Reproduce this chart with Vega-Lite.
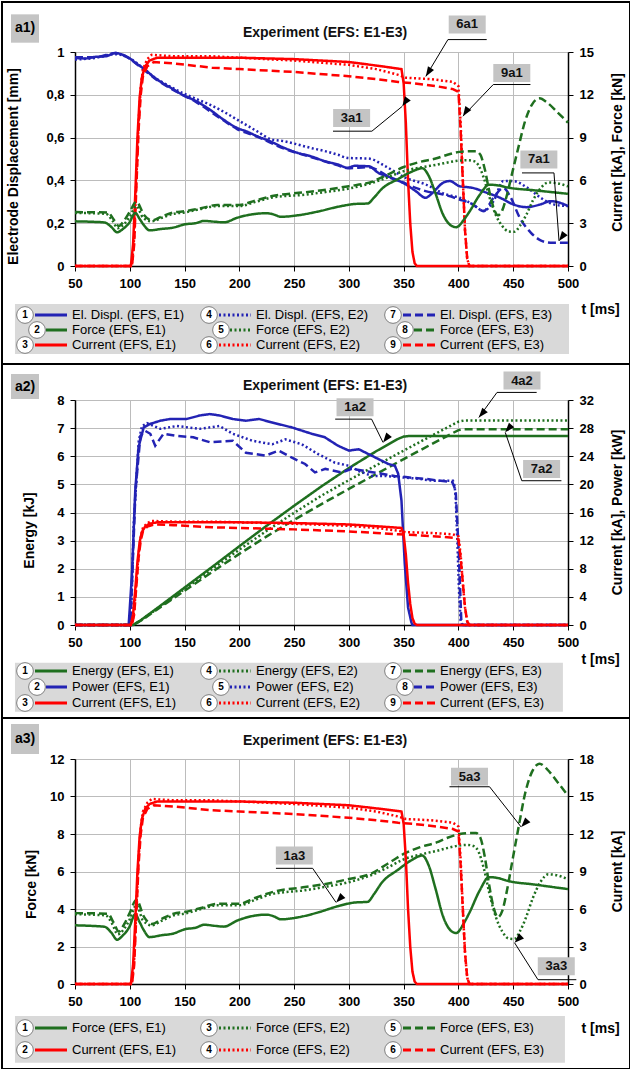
{
"$schema":"https://vega.github.io/schema/vega-lite/v6.json",
"padding":0,
"autosize":{"type":"pad"},
"bounds":"flush",
"spacing":134,
"background":"white",
"config":{
 "font":"Liberation Sans",
 "view":{"stroke":"#7a7a7a","strokeWidth":1},
 "axis":{"labelFont":"Liberation Sans","labelFontSize":13,"labelFontWeight":"bold","labelColor":"#000","labelOverlap":false,"titleFont":"Liberation Sans","titleFontSize":14,"titleFontWeight":"bold","titleColor":"#000","domainColor":"#000","domainWidth":1.5,"tickColor":"#000","tickSize":5,"gridColor":"#bcbcbc","gridWidth":1,"gridOpacity":1,"labelPadding":6},
 "text":{"font":"Liberation Sans"},
 "line":{"strokeCap":"butt"}
},
"datasets":{
"disp":[
{"t":50,"v":0.972,"s":"E1"},{"t":60,"v":0.97,"s":"E1"},{"t":68,"v":0.977,"s":"E1"},{"t":78,"v":0.98,"s":"E1"},{"t":87,"v":0.995,"s":"E1"},{"t":93,"v":0.988,"s":"E1"},{"t":100,"v":0.97,"s":"E1"},{"t":105,"v":0.95,"s":"E1"},{"t":112,"v":0.925,"s":"E1"},{"t":118,"v":0.9,"s":"E1"},{"t":124,"v":0.875,"s":"E1"},{"t":130,"v":0.855,"s":"E1"},{"t":140,"v":0.825,"s":"E1"},{"t":148,"v":0.8,"s":"E1"},{"t":160,"v":0.772,"s":"E1"},{"t":173,"v":0.731,"s":"E1"},{"t":185,"v":0.686,"s":"E1"},{"t":198,"v":0.645,"s":"E1"},{"t":207,"v":0.628,"s":"E1"},{"t":216,"v":0.607,"s":"E1"},{"t":228,"v":0.583,"s":"E1"},{"t":241,"v":0.552,"s":"E1"},{"t":253,"v":0.529,"s":"E1"},{"t":265,"v":0.513,"s":"E1"},{"t":278,"v":0.49,"s":"E1"},{"t":290,"v":0.474,"s":"E1"},{"t":299,"v":0.459,"s":"E1"},{"t":305,"v":0.468,"s":"E1"},{"t":318,"v":0.466,"s":"E1"},{"t":327,"v":0.435,"s":"E1"},{"t":339,"v":0.412,"s":"E1"},{"t":352,"v":0.381,"s":"E1"},{"t":361,"v":0.35,"s":"E1"},{"t":370,"v":0.319,"s":"E1"},{"t":376,"v":0.34,"s":"E1"},{"t":386,"v":0.389,"s":"E1"},{"t":392,"v":0.397,"s":"E1"},{"t":401,"v":0.373,"s":"E1"},{"t":413,"v":0.365,"s":"E1"},{"t":426,"v":0.342,"s":"E1"},{"t":438,"v":0.319,"s":"E1"},{"t":450,"v":0.288,"s":"E1"},{"t":462,"v":0.275,"s":"E1"},{"t":475,"v":0.288,"s":"E1"},{"t":484,"v":0.303,"s":"E1"},{"t":493,"v":0.295,"s":"E1"},{"t":500,"v":0.28,"s":"E1"},
{"t":50,"v":0.965,"s":"E2"},{"t":68,"v":0.972,"s":"E2"},{"t":87,"v":0.99,"s":"E2"},{"t":100,"v":0.97,"s":"E2"},{"t":112,"v":0.925,"s":"E2"},{"t":124,"v":0.876,"s":"E2"},{"t":130,"v":0.858,"s":"E2"},{"t":148,"v":0.809,"s":"E2"},{"t":160,"v":0.782,"s":"E2"},{"t":173,"v":0.754,"s":"E2"},{"t":186,"v":0.72,"s":"E2"},{"t":198,"v":0.684,"s":"E2"},{"t":216,"v":0.63,"s":"E2"},{"t":229,"v":0.592,"s":"E2"},{"t":241,"v":0.583,"s":"E2"},{"t":253,"v":0.568,"s":"E2"},{"t":265,"v":0.552,"s":"E2"},{"t":278,"v":0.537,"s":"E2"},{"t":290,"v":0.52,"s":"E2"},{"t":299,"v":0.505,"s":"E2"},{"t":318,"v":0.502,"s":"E2"},{"t":333,"v":0.467,"s":"E2"},{"t":352,"v":0.412,"s":"E2"},{"t":370,"v":0.381,"s":"E2"},{"t":389,"v":0.334,"s":"E2"},{"t":401,"v":0.319,"s":"E2"},{"t":413,"v":0.288,"s":"E2"},{"t":423,"v":0.257,"s":"E2"},{"t":432,"v":0.303,"s":"E2"},{"t":441,"v":0.397,"s":"E2"},{"t":450,"v":0.397,"s":"E2"},{"t":463,"v":0.365,"s":"E2"},{"t":475,"v":0.319,"s":"E2"},{"t":487,"v":0.288,"s":"E2"},{"t":500,"v":0.28,"s":"E2"},
{"t":50,"v":0.975,"s":"E3"},{"t":68,"v":0.975,"s":"E3"},{"t":87,"v":0.995,"s":"E3"},{"t":100,"v":0.968,"s":"E3"},{"t":112,"v":0.92,"s":"E3"},{"t":124,"v":0.872,"s":"E3"},{"t":140,"v":0.822,"s":"E3"},{"t":160,"v":0.768,"s":"E3"},{"t":185,"v":0.682,"s":"E3"},{"t":198,"v":0.64,"s":"E3"},{"t":216,"v":0.605,"s":"E3"},{"t":241,"v":0.548,"s":"E3"},{"t":265,"v":0.51,"s":"E3"},{"t":290,"v":0.47,"s":"E3"},{"t":299,"v":0.457,"s":"E3"},{"t":318,"v":0.462,"s":"E3"},{"t":339,"v":0.41,"s":"E3"},{"t":352,"v":0.385,"s":"E3"},{"t":361,"v":0.365,"s":"E3"},{"t":370,"v":0.35,"s":"E3"},{"t":386,"v":0.334,"s":"E3"},{"t":401,"v":0.311,"s":"E3"},{"t":413,"v":0.288,"s":"E3"},{"t":423,"v":0.257,"s":"E3"},{"t":432,"v":0.319,"s":"E3"},{"t":441,"v":0.365,"s":"E3"},{"t":447,"v":0.327,"s":"E3"},{"t":456,"v":0.225,"s":"E3"},{"t":466,"v":0.156,"s":"E3"},{"t":475,"v":0.12,"s":"E3"},{"t":484,"v":0.109,"s":"E3"},{"t":500,"v":0.109,"s":"E3"}
],
"force":[
{"t":50,"v":3.13,"s":"E1"},{"t":65,"v":3.1,"s":"E1"},{"t":77,"v":3.05,"s":"E1"},{"t":83,"v":2.75,"s":"E1"},{"t":88.5,"v":2.36,"s":"E1"},{"t":93,"v":2.55,"s":"E1"},{"t":99.6,"v":3.04,"s":"E1"},{"t":105,"v":3.72,"s":"E1"},{"t":109,"v":3.3,"s":"E1"},{"t":113,"v":2.85,"s":"E1"},{"t":118,"v":2.5,"s":"E1"},{"t":129,"v":2.6,"s":"E1"},{"t":139,"v":2.68,"s":"E1"},{"t":151,"v":2.93,"s":"E1"},{"t":160,"v":3.0,"s":"E1"},{"t":168,"v":3.16,"s":"E1"},{"t":178,"v":3.1,"s":"E1"},{"t":186,"v":3.06,"s":"E1"},{"t":198,"v":3.38,"s":"E1"},{"t":210,"v":3.6,"s":"E1"},{"t":225,"v":3.7,"s":"E1"},{"t":231,"v":3.62,"s":"E1"},{"t":238,"v":3.45,"s":"E1"},{"t":253,"v":3.55,"s":"E1"},{"t":272,"v":3.82,"s":"E1"},{"t":290,"v":4.15,"s":"E1"},{"t":306,"v":4.35,"s":"E1"},{"t":317,"v":4.38,"s":"E1"},{"t":323,"v":4.8,"s":"E1"},{"t":330,"v":5.4,"s":"E1"},{"t":345,"v":6.1,"s":"E1"},{"t":357,"v":6.6,"s":"E1"},{"t":367,"v":6.85,"s":"E1"},{"t":373,"v":6.3,"s":"E1"},{"t":379,"v":5.1,"s":"E1"},{"t":386,"v":3.6,"s":"E1"},{"t":394,"v":2.8,"s":"E1"},{"t":398,"v":2.72,"s":"E1"},{"t":405,"v":3.25,"s":"E1"},{"t":410,"v":3.8,"s":"E1"},{"t":419.5,"v":5.0,"s":"E1"},{"t":428,"v":5.7,"s":"E1"},{"t":436,"v":5.65,"s":"E1"},{"t":445,"v":5.5,"s":"E1"},{"t":470,"v":5.3,"s":"E1"},{"t":500,"v":5.06,"s":"E1"},
{"t":50,"v":3.72,"s":"E2"},{"t":78,"v":3.66,"s":"E2"},{"t":84,"v":3.2,"s":"E2"},{"t":89,"v":2.65,"s":"E2"},{"t":95,"v":2.95,"s":"E2"},{"t":100,"v":3.45,"s":"E2"},{"t":106,"v":4.2,"s":"E2"},{"t":112,"v":3.4,"s":"E2"},{"t":120,"v":3.13,"s":"E2"},{"t":130,"v":3.4,"s":"E2"},{"t":140,"v":3.66,"s":"E2"},{"t":150,"v":3.75,"s":"E2"},{"t":165,"v":4.0,"s":"E2"},{"t":180,"v":4.2,"s":"E2"},{"t":200,"v":4.2,"s":"E2"},{"t":215,"v":4.5,"s":"E2"},{"t":230,"v":4.8,"s":"E2"},{"t":260,"v":5.0,"s":"E2"},{"t":280,"v":5.2,"s":"E2"},{"t":300,"v":5.43,"s":"E2"},{"t":320,"v":5.8,"s":"E2"},{"t":335,"v":6.2,"s":"E2"},{"t":350,"v":6.65,"s":"E2"},{"t":365,"v":6.9,"s":"E2"},{"t":380,"v":7.1,"s":"E2"},{"t":400,"v":7.38,"s":"E2"},{"t":408,"v":7.42,"s":"E2"},{"t":414,"v":7.35,"s":"E2"},{"t":418,"v":7.1,"s":"E2"},{"t":423,"v":6.2,"s":"E2"},{"t":428,"v":4.9,"s":"E2"},{"t":434,"v":3.6,"s":"E2"},{"t":440,"v":2.8,"s":"E2"},{"t":446,"v":2.42,"s":"E2"},{"t":451,"v":2.4,"s":"E2"},{"t":456,"v":2.8,"s":"E2"},{"t":462,"v":3.6,"s":"E2"},{"t":468,"v":4.6,"s":"E2"},{"t":475,"v":5.45,"s":"E2"},{"t":482,"v":5.85,"s":"E2"},{"t":490,"v":5.8,"s":"E2"},{"t":500,"v":5.58,"s":"E2"},
{"t":50,"v":3.78,"s":"E3"},{"t":80,"v":3.75,"s":"E3"},{"t":85,"v":3.3,"s":"E3"},{"t":90,"v":2.8,"s":"E3"},{"t":95,"v":3.2,"s":"E3"},{"t":100,"v":3.8,"s":"E3"},{"t":106,"v":4.5,"s":"E3"},{"t":113,"v":3.58,"s":"E3"},{"t":120,"v":3.2,"s":"E3"},{"t":130,"v":3.5,"s":"E3"},{"t":140,"v":3.75,"s":"E3"},{"t":150,"v":3.84,"s":"E3"},{"t":165,"v":4.05,"s":"E3"},{"t":180,"v":4.28,"s":"E3"},{"t":200,"v":4.28,"s":"E3"},{"t":215,"v":4.6,"s":"E3"},{"t":230,"v":4.9,"s":"E3"},{"t":260,"v":5.17,"s":"E3"},{"t":280,"v":5.35,"s":"E3"},{"t":300,"v":5.6,"s":"E3"},{"t":320,"v":5.88,"s":"E3"},{"t":335,"v":6.4,"s":"E3"},{"t":350,"v":6.94,"s":"E3"},{"t":365,"v":7.3,"s":"E3"},{"t":380,"v":7.55,"s":"E3"},{"t":390,"v":7.8,"s":"E3"},{"t":401,"v":8.0,"s":"E3"},{"t":410,"v":8.05,"s":"E3"},{"t":416,"v":8.05,"s":"E3"},{"t":420,"v":7.8,"s":"E3"},{"t":424,"v":6.8,"s":"E3"},{"t":428,"v":5.3,"s":"E3"},{"t":432,"v":4.1,"s":"E3"},{"t":436,"v":3.56,"s":"E3"},{"t":440,"v":3.9,"s":"E3"},{"t":444,"v":4.9,"s":"E3"},{"t":449,"v":6.5,"s":"E3"},{"t":455,"v":8.4,"s":"E3"},{"t":461,"v":10.2,"s":"E3"},{"t":467,"v":11.3,"s":"E3"},{"t":474,"v":11.75,"s":"E3"},{"t":481,"v":11.45,"s":"E3"},{"t":490,"v":10.8,"s":"E3"},{"t":500,"v":10.05,"s":"E3"}
],
"cur":[
{"t":50,"v":0,"s":"E1"},{"t":101,"v":0,"s":"E1"},{"t":103,"v":1.5,"s":"E1"},{"t":105,"v":5,"s":"E1"},{"t":107,"v":9,"s":"E1"},{"t":109,"v":11.8,"s":"E1"},{"t":111,"v":13.2,"s":"E1"},{"t":114,"v":14,"s":"E1"},{"t":118,"v":14.4,"s":"E1"},{"t":125,"v":14.6,"s":"E1"},{"t":150,"v":14.6,"s":"E1"},{"t":200,"v":14.6,"s":"E1"},{"t":250,"v":14.5,"s":"E1"},{"t":300,"v":14.3,"s":"E1"},{"t":330,"v":14,"s":"E1"},{"t":348,"v":13.8,"s":"E1"},{"t":350,"v":12.8,"s":"E1"},{"t":352,"v":10,"s":"E1"},{"t":354,"v":6,"s":"E1"},{"t":356,"v":3,"s":"E1"},{"t":358,"v":1,"s":"E1"},{"t":360,"v":0.2,"s":"E1"},{"t":362,"v":0,"s":"E1"},{"t":500,"v":0,"s":"E1"},
{"t":50,"v":0,"s":"E2"},{"t":102,"v":0,"s":"E2"},{"t":104,"v":2,"s":"E2"},{"t":106,"v":6,"s":"E2"},{"t":108,"v":10,"s":"E2"},{"t":110,"v":12.5,"s":"E2"},{"t":112,"v":13.8,"s":"E2"},{"t":116,"v":14.5,"s":"E2"},{"t":120,"v":14.8,"s":"E2"},{"t":140,"v":14.7,"s":"E2"},{"t":175,"v":14.7,"s":"E2"},{"t":200,"v":14.6,"s":"E2"},{"t":250,"v":14.4,"s":"E2"},{"t":300,"v":14.1,"s":"E2"},{"t":325,"v":13.8,"s":"E2"},{"t":345,"v":13.4,"s":"E2"},{"t":352,"v":13.2,"s":"E2"},{"t":375,"v":13.1,"s":"E2"},{"t":395,"v":12.9,"s":"E2"},{"t":400,"v":12.6,"s":"E2"},{"t":402,"v":10,"s":"E2"},{"t":404,"v":6,"s":"E2"},{"t":406,"v":2.5,"s":"E2"},{"t":408,"v":0.5,"s":"E2"},{"t":410,"v":0,"s":"E2"},{"t":500,"v":0,"s":"E2"},
{"t":50,"v":0,"s":"E3"},{"t":102,"v":0,"s":"E3"},{"t":104,"v":1.5,"s":"E3"},{"t":106,"v":5.5,"s":"E3"},{"t":108,"v":9.5,"s":"E3"},{"t":110,"v":12,"s":"E3"},{"t":112,"v":13.3,"s":"E3"},{"t":116,"v":14,"s":"E3"},{"t":122,"v":14.3,"s":"E3"},{"t":140,"v":14.2,"s":"E3"},{"t":175,"v":13.9,"s":"E3"},{"t":200,"v":13.8,"s":"E3"},{"t":250,"v":13.6,"s":"E3"},{"t":300,"v":13.3,"s":"E3"},{"t":325,"v":13.1,"s":"E3"},{"t":345,"v":12.9,"s":"E3"},{"t":360,"v":12.8,"s":"E3"},{"t":380,"v":12.6,"s":"E3"},{"t":395,"v":12.4,"s":"E3"},{"t":400,"v":12.2,"s":"E3"},{"t":402,"v":9.5,"s":"E3"},{"t":404,"v":6,"s":"E3"},{"t":406,"v":2.5,"s":"E3"},{"t":408,"v":0.5,"s":"E3"},{"t":410,"v":0,"s":"E3"},{"t":500,"v":0,"s":"E3"}
],
"energy":[
{"t":50,"v":0,"s":"E1"},{"t":103,"v":0,"s":"E1"},{"t":110,"v":0.17,"s":"E1"},{"t":125,"v":0.6,"s":"E1"},{"t":150,"v":1.33,"s":"E1"},{"t":175,"v":2.06,"s":"E1"},{"t":200,"v":2.8,"s":"E1"},{"t":225,"v":3.53,"s":"E1"},{"t":250,"v":4.24,"s":"E1"},{"t":275,"v":4.93,"s":"E1"},{"t":300,"v":5.58,"s":"E1"},{"t":325,"v":6.18,"s":"E1"},{"t":345,"v":6.62,"s":"E1"},{"t":350,"v":6.7,"s":"E1"},{"t":355,"v":6.72,"s":"E1"},{"t":500,"v":6.72,"s":"E1"},
{"t":50,"v":0,"s":"E2"},{"t":103,"v":0,"s":"E2"},{"t":110,"v":0.16,"s":"E2"},{"t":125,"v":0.58,"s":"E2"},{"t":150,"v":1.28,"s":"E2"},{"t":175,"v":1.98,"s":"E2"},{"t":200,"v":2.68,"s":"E2"},{"t":225,"v":3.35,"s":"E2"},{"t":250,"v":3.99,"s":"E2"},{"t":275,"v":4.6,"s":"E2"},{"t":300,"v":5.15,"s":"E2"},{"t":325,"v":5.68,"s":"E2"},{"t":350,"v":6.2,"s":"E2"},{"t":375,"v":6.72,"s":"E2"},{"t":400,"v":7.23,"s":"E2"},{"t":405,"v":7.27,"s":"E2"},{"t":500,"v":7.27,"s":"E2"},
{"t":50,"v":0,"s":"E3"},{"t":103,"v":0,"s":"E3"},{"t":110,"v":0.15,"s":"E3"},{"t":125,"v":0.55,"s":"E3"},{"t":150,"v":1.22,"s":"E3"},{"t":175,"v":1.88,"s":"E3"},{"t":200,"v":2.53,"s":"E3"},{"t":225,"v":3.15,"s":"E3"},{"t":250,"v":3.74,"s":"E3"},{"t":275,"v":4.3,"s":"E3"},{"t":300,"v":4.84,"s":"E3"},{"t":325,"v":5.37,"s":"E3"},{"t":350,"v":5.9,"s":"E3"},{"t":375,"v":6.42,"s":"E3"},{"t":400,"v":6.93,"s":"E3"},{"t":405,"v":6.96,"s":"E3"},{"t":500,"v":6.96,"s":"E3"}
],
"power":[
{"t":50,"v":0,"s":"E1"},{"t":99,"v":0,"s":"E1"},{"t":102,"v":7.25,"s":"E1"},{"t":105,"v":19.1,"s":"E1"},{"t":108,"v":25.3,"s":"E1"},{"t":112.7,"v":28.1,"s":"E1"},{"t":118.7,"v":28.6,"s":"E1"},{"t":127.8,"v":29.05,"s":"E1"},{"t":136.8,"v":29.3,"s":"E1"},{"t":151.9,"v":29.3,"s":"E1"},{"t":164,"v":29.8,"s":"E1"},{"t":173,"v":30.0,"s":"E1"},{"t":182,"v":29.8,"s":"E1"},{"t":194,"v":29.3,"s":"E1"},{"t":206,"v":29.05,"s":"E1"},{"t":218,"v":29.3,"s":"E1"},{"t":230,"v":28.8,"s":"E1"},{"t":248,"v":28.1,"s":"E1"},{"t":266,"v":27.2,"s":"E1"},{"t":278,"v":26.7,"s":"E1"},{"t":290,"v":25.5,"s":"E1"},{"t":300,"v":24.8,"s":"E1"},{"t":309,"v":25.0,"s":"E1"},{"t":318,"v":24.3,"s":"E1"},{"t":327,"v":23.6,"s":"E1"},{"t":336,"v":22.9,"s":"E1"},{"t":342,"v":22.65,"s":"E1"},{"t":345,"v":21.5,"s":"E1"},{"t":348,"v":17.7,"s":"E1"},{"t":351,"v":8.7,"s":"E1"},{"t":354,"v":2.5,"s":"E1"},{"t":357,"v":0.4,"s":"E1"},{"t":358,"v":0,"s":"E1"},{"t":500,"v":0,"s":"E1"},
{"t":50,"v":0,"s":"E2"},{"t":101,"v":0,"s":"E2"},{"t":103.6,"v":14.4,"s":"E2"},{"t":108.2,"v":26.2,"s":"E2"},{"t":111.2,"v":28.3,"s":"E2"},{"t":115.7,"v":28.7,"s":"E2"},{"t":127.8,"v":27.9,"s":"E2"},{"t":142.8,"v":28.3,"s":"E2"},{"t":164,"v":27.9,"s":"E2"},{"t":182,"v":28.3,"s":"E2"},{"t":194,"v":27.2,"s":"E2"},{"t":212,"v":26.2,"s":"E2"},{"t":230,"v":25.7,"s":"E2"},{"t":242,"v":26.4,"s":"E2"},{"t":257,"v":25.7,"s":"E2"},{"t":272,"v":24.3,"s":"E2"},{"t":287,"v":23.1,"s":"E2"},{"t":300,"v":22.65,"s":"E2"},{"t":309,"v":21.9,"s":"E2"},{"t":321,"v":21.2,"s":"E2"},{"t":333,"v":21.2,"s":"E2"},{"t":348,"v":21.0,"s":"E2"},{"t":363,"v":20.8,"s":"E2"},{"t":378,"v":20.5,"s":"E2"},{"t":395,"v":20.5,"s":"E2"},{"t":396.5,"v":19.8,"s":"E2"},{"t":397.5,"v":18.1,"s":"E2"},{"t":399,"v":12,"s":"E2"},{"t":400.5,"v":4.9,"s":"E2"},{"t":402,"v":0.6,"s":"E2"},{"t":403.5,"v":0,"s":"E2"},{"t":500,"v":0,"s":"E2"},
{"t":50,"v":0,"s":"E3"},{"t":100.6,"v":0,"s":"E3"},{"t":105.2,"v":19.1,"s":"E3"},{"t":109.7,"v":26.9,"s":"E3"},{"t":114.2,"v":27.6,"s":"E3"},{"t":118.7,"v":27.2,"s":"E3"},{"t":123.2,"v":25.5,"s":"E3"},{"t":130.8,"v":27.2,"s":"E3"},{"t":142.8,"v":26.9,"s":"E3"},{"t":158,"v":26.7,"s":"E3"},{"t":173,"v":26.0,"s":"E3"},{"t":194,"v":26.2,"s":"E3"},{"t":206,"v":24.5,"s":"E3"},{"t":224,"v":24.1,"s":"E3"},{"t":236,"v":24.8,"s":"E3"},{"t":248,"v":23.8,"s":"E3"},{"t":260,"v":22.9,"s":"E3"},{"t":269,"v":21.7,"s":"E3"},{"t":278.5,"v":22.2,"s":"E3"},{"t":293.5,"v":21.7,"s":"E3"},{"t":302.6,"v":22.2,"s":"E3"},{"t":314.6,"v":21.9,"s":"E3"},{"t":329.7,"v":21.5,"s":"E3"},{"t":341.8,"v":21.2,"s":"E3"},{"t":353.8,"v":21.0,"s":"E3"},{"t":368.9,"v":20.8,"s":"E3"},{"t":384,"v":20.5,"s":"E3"},{"t":394.5,"v":20.3,"s":"E3"},{"t":397.5,"v":19.1,"s":"E3"},{"t":400.5,"v":9.6,"s":"E3"},{"t":402.6,"v":0.6,"s":"E3"},{"t":404.4,"v":0,"s":"E3"},{"t":500,"v":0,"s":"E3"}
],
"callouts":[
{"id":"6a1","p":1,"bt":408,"bv":1.129,"l1":390.4,"l2":425.8,"lv":1.058,"tt":390.4,"pt":370.2,"pv":0.886},
{"id":"9a1","p":1,"bt":448.7,"bv":0.902,"l1":431.8,"l2":465.7,"lv":0.848,"tt":431.8,"pt":404.1,"pv":0.70},
{"id":"3a1","p":1,"bt":302.5,"bv":0.692,"l1":285.5,"l2":321,"lv":0.63,"tt":321,"pt":348.7,"pv":0.746},
{"id":"7a1","p":1,"bt":473.4,"bv":0.498,"l1":458,"l2":487.2,"lv":0.435,"tt":487.2,"pt":491.8,"pv":0.117},
{"id":"1a2","p":2,"bt":305.6,"bv":7.74,"l1":287.5,"l2":320.7,"lv":7.32,"tt":320.7,"pt":331.2,"pv":6.49},
{"id":"4a2","p":2,"bt":458,"bv":8.69,"l1":435.2,"l2":471.4,"lv":8.27,"tt":435.2,"pt":418.6,"pv":7.38},
{"id":"7a2","p":2,"bt":475.9,"bv":5.55,"l1":457.8,"l2":494,"lv":5.13,"tt":457.8,"pt":442.7,"pv":6.85},
{"id":"5a3","p":3,"bt":410.1,"bv":11.06,"l1":391.8,"l2":428.4,"lv":10.52,"tt":428.4,"pt":457.3,"pv":8.37},
{"id":"1a3","p":3,"bt":250.2,"bv":6.85,"l1":233.4,"l2":266.9,"lv":6.17,"tt":266.9,"pt":288.3,"pv":4.35},
{"id":"3a3","p":3,"bt":489.3,"bv":0.95,"l1":472.6,"l2":507.6,"lv":0.23,"tt":472.6,"pt":451.2,"pv":2.2}
],
"leg1":[
{"col":1,"row":1,"n":"1","label":"El. Displ. (EFS, E1)","q":"Displ","s":"E1"},
{"col":1,"row":2,"n":"2","label":"Force (EFS, E1)","q":"Force","s":"E1"},
{"col":1,"row":3,"n":"3","label":"Current (EFS, E1)","q":"Current","s":"E1"},
{"col":2,"row":1,"n":"4","label":"El. Displ. (EFS, E2)","q":"Displ","s":"E2"},
{"col":2,"row":2,"n":"5","label":"Force (EFS, E2)","q":"Force","s":"E2"},
{"col":2,"row":3,"n":"6","label":"Current (EFS, E2)","q":"Current","s":"E2"},
{"col":3,"row":1,"n":"7","label":"El. Displ. (EFS, E3)","q":"Displ","s":"E3"},
{"col":3,"row":2,"n":"8","label":"Force (EFS, E3)","q":"Force","s":"E3"},
{"col":3,"row":3,"n":"9","label":"Current (EFS, E3)","q":"Current","s":"E3"}
],
"leg2":[
{"col":1,"row":1,"n":"1","label":"Energy (EFS, E1)","q":"Energy","s":"E1"},
{"col":1,"row":2,"n":"2","label":"Power (EFS, E1)","q":"Power","s":"E1"},
{"col":1,"row":3,"n":"3","label":"Current (EFS, E1)","q":"Current","s":"E1"},
{"col":2,"row":1,"n":"4","label":"Energy (EFS, E2)","q":"Energy","s":"E2"},
{"col":2,"row":2,"n":"5","label":"Power (EFS, E2)","q":"Power","s":"E2"},
{"col":2,"row":3,"n":"6","label":"Current (EFS, E2)","q":"Current","s":"E2"},
{"col":3,"row":1,"n":"7","label":"Energy (EFS, E3)","q":"Energy","s":"E3"},
{"col":3,"row":2,"n":"8","label":"Power (EFS, E3)","q":"Power","s":"E3"},
{"col":3,"row":3,"n":"9","label":"Current (EFS, E3)","q":"Current","s":"E3"}
],
"leg3":[
{"col":1,"row":1,"n":"1","label":"Force (EFS, E1)","q":"Force","s":"E1"},
{"col":1,"row":2,"n":"2","label":"Current (EFS, E1)","q":"Current","s":"E1"},
{"col":2,"row":1,"n":"3","label":"Force (EFS, E2)","q":"Force","s":"E2"},
{"col":2,"row":2,"n":"4","label":"Force (EFS, E2)","q":"Current","s":"E2"},
{"col":3,"row":1,"n":"5","label":"Force (EFS, E3)","q":"Force","s":"E3"},
{"col":3,"row":2,"n":"6","label":"Current (EFS, E3)","q":"Current","s":"E3"}
]
},
"vconcat":[
{
"width":493,"height":214,
"layer":[
 {"layer":[
   {"layer":[
     {"data":{"values":[{}]},"mark":{"type":"rect","fill":"transparent","stroke":"#000","strokeWidth":2},
      "encoding":{"x":{"datum":-16.63,"type":"quantitative","scale":{"domain":[50,500],"nice":false,"zero":false}},"x2":{"datum":556.6},"y":{"datum":1.2336,"type":"quantitative","scale":{"domain":[0,1],"nice":false,"zero":false}},"y2":{"datum":-0.458}}},
     {"data":{"values":[{}]},"mark":{"type":"rect","fill":"#c4c4c4"},
      "encoding":{"x":{"datum":-8.42,"type":"quantitative","scale":{"domain":[50,500],"nice":false,"zero":false}},"x2":{"datum":17.14},"y":{"datum":1.176,"type":"quantitative","scale":{"domain":[0,1],"nice":false,"zero":false}},"y2":{"datum":1.0435}}},
     {"data":{"values":[{}]},"mark":{"type":"text","text":"a1)","fontSize":14,"fontWeight":"bold","align":"center","baseline":"middle","color":"#000"},
      "encoding":{"x":{"datum":4.36,"type":"quantitative","scale":{"domain":[50,500],"nice":false,"zero":false}},"y":{"datum":1.11,"type":"quantitative","scale":{"domain":[0,1],"nice":false,"zero":false}}}},
     {"data":{"values":[{}]},"mark":{"type":"text","text":"Experiment (EFS: E1-E3)","fontSize":14,"fontWeight":"bold","align":"center","baseline":"middle","color":"#111"},
      "encoding":{"x":{"datum":278.2,"type":"quantitative","scale":{"domain":[50,500],"nice":false,"zero":false}},"y":{"datum":1.089,"type":"quantitative","scale":{"domain":[0,1],"nice":false,"zero":false}}}},
     {"data":{"name":"disp"},"mark":{"type":"line","color":"#2323b4","strokeWidth":2.5,"interpolate":"monotone"},
      "encoding":{"x":{"field":"t","type":"quantitative","scale":{"domain":[50,500],"nice":false,"zero":false},"axis":{"values":[50,100,150,200,250,300,350,400,450,500],"tickCount":30,"format":"d","grid":true,"title":"t [ms]","titleX":506,"titleY":43,"titleAlign":"left","titleBaseline":"middle","titleAngle":0,"labelFlush":false}},
       "y":{"field":"v","type":"quantitative","scale":{"domain":[0,1],"nice":false,"zero":false},"axis":{"values":[0,0.2,0.4,0.6,0.8,1],"tickCount":30,"grid":true,"labelExpr":"replace(format(datum.value,'~g'),'.',',')","title":"Electrode Displacement  [mm]","titleX":-62,"titleY":114,"titleAngle":270,"titleAlign":"center","titleBaseline":"middle"}},
       "strokeDash":{"field":"s","type":"nominal","scale":{"domain":["E1","E2","E3"],"range":[[1,0],[2,2.5],[8,4]]},"legend":null}}}
   ]},
   {"layer":[
     {"data":{"name":"cur"},"mark":{"type":"line","color":"#ff0000","strokeWidth":2.5},
      "encoding":{"x":{"field":"t","type":"quantitative","scale":{"domain":[50,500],"nice":false,"zero":false}},"y":{"field":"v","type":"quantitative","scale":{"domain":[0,15],"nice":false,"zero":false},"axis":{"orient":"right","values":[0,3,6,9,12,15],"tickCount":30,"format":"d","grid":false,"title":"Current  [kA],   Force  [kN]","titleX":49,"titleY":100,"titleAngle":270,"titleAlign":"center","titleBaseline":"middle"}},
       "strokeDash":{"field":"s","type":"nominal","scale":{"domain":["E1","E2","E3"],"range":[[1,0],[2,2.5],[8,4]]},"legend":null}}},
     {"data":{"name":"force"},"mark":{"type":"line","color":"#1f6f1f","strokeWidth":2.5,"interpolate":"monotone"},
      "encoding":{"x":{"field":"t","type":"quantitative","scale":{"domain":[50,500],"nice":false,"zero":false}},"y":{"field":"v","type":"quantitative","scale":{"domain":[0,15],"nice":false,"zero":false}},
       "strokeDash":{"field":"s","type":"nominal","scale":{"domain":["E1","E2","E3"],"range":[[1,0],[2,2.5],[8,4]]},"legend":null}}}
   ]},
   {"data":{"name":"callouts"},"transform":[{"filter":"datum.p == 1"}],
    "layer":[
     {"mark":{"type":"rule","color":"#000","strokeWidth":1},"encoding":{"x":{"field":"l1","type":"quantitative","scale":{"domain":[50,500],"nice":false,"zero":false}},"x2":{"field":"l2"},"y":{"field":"lv","type":"quantitative","scale":{"domain":[0,1],"nice":false,"zero":false},"axis":null}}},
     {"mark":{"type":"rule","color":"#000","strokeWidth":1},"encoding":{"x":{"field":"tt","type":"quantitative","scale":{"domain":[50,500],"nice":false,"zero":false}},"x2":{"field":"pt"},"y":{"field":"lv","type":"quantitative","scale":{"domain":[0,1],"nice":false,"zero":false},"axis":null},"y2":{"field":"pv"}}},
     {"mark":{"type":"point","shape":"M0,0L0.55,1.5L-0.55,1.5Z","size":169,"filled":true,"color":"#000","opacity":1},"encoding":{"x":{"field":"pt","type":"quantitative","scale":{"domain":[50,500],"nice":false,"zero":false}},"y":{"field":"pv","type":"quantitative","scale":{"domain":[0,1],"nice":false,"zero":false},"axis":null},
       "angle":{"field":"id","type":"nominal","scale":{"domain":["6a1","9a1","3a1","7a1","1a2","4a2","7a2","5a3","1a3","3a3"],"range":[212.2,225.4,50.7,175.8,152.9,217.9,342.7,141.2,145.1,327.6]},"legend":null}}},
     {"mark":{"type":"point","shape":"M-1,-0.486H1V0.486H-1Z","size":1369,"filled":true,"color":"#c4c4c4","opacity":1},"encoding":{"x":{"field":"bt","type":"quantitative","scale":{"domain":[50,500],"nice":false,"zero":false}},"y":{"field":"bv","type":"quantitative","scale":{"domain":[0,1],"nice":false,"zero":false},"axis":null}}},
     {"mark":{"type":"text","fontSize":13,"fontWeight":"bold","align":"center","baseline":"middle","color":"#111"},"encoding":{"x":{"field":"bt","type":"quantitative","scale":{"domain":[50,500],"nice":false,"zero":false}},"y":{"field":"bv","type":"quantitative","scale":{"domain":[0,1],"nice":false,"zero":false},"axis":null},"text":{"field":"id"}}}
    ]}
  ],
  "resolve":{"scale":{"y":"independent"}}
 },
 {"data":{"name":"leg1"},
  "layer":[
   {"data":{"values":[{}]},"mark":{"type":"rect","fill":"#d9d9d9"},"encoding":{"x":{"datum":0.69,"type":"quantitative","scale":{"domain":[1,3],"range":[-3,365],"nice":false,"zero":false},"axis":null},"x2":{"datum":3.701},"y":{"datum":0.267,"type":"quantitative","scale":{"domain":[1,3],"range":[263,293],"nice":false,"zero":false},"axis":null},"y2":{"datum":3.6}}},
   {"transform":[{"filter":"datum.row != 2"}],"mark":{"type":"rule","strokeWidth":3,"xOffset":-37,"x2Offset":-5},"encoding":{"x":{"field":"col","type":"quantitative","scale":{"domain":[1,3],"range":[-3,365],"nice":false,"zero":false},"axis":null},"x2":{"field":"col"},"y":{"field":"row","type":"quantitative","scale":{"domain":[1,3],"range":[263,293],"nice":false,"zero":false},"axis":null},
     "color":{"field":"q","type":"nominal","scale":{"domain":["Displ","Force","Current","Energy","Power"],"range":["#2323b4","#1f6f1f","#ff0000","#1f6f1f","#2323b4"]},"legend":null},
     "strokeDash":{"field":"s","type":"nominal","scale":{"domain":["E1","E2","E3"],"range":[[1,0],[2,2.5],[8,4]]},"legend":null}}},
   {"transform":[{"filter":"datum.row == 2"}],"mark":{"type":"rule","strokeWidth":3,"xOffset":-26,"x2Offset":-5},"encoding":{"x":{"field":"col","type":"quantitative","scale":{"domain":[1,3],"range":[-3,365],"nice":false,"zero":false},"axis":null},"x2":{"field":"col"},"y":{"field":"row","type":"quantitative","scale":{"domain":[1,3],"range":[263,293],"nice":false,"zero":false},"axis":null},
     "color":{"field":"q","type":"nominal","scale":{"domain":["Displ","Force","Current","Energy","Power"],"range":["#2323b4","#1f6f1f","#ff0000","#1f6f1f","#2323b4"]},"legend":null},
     "strokeDash":{"field":"s","type":"nominal","scale":{"domain":["E1","E2","E3"],"range":[[1,0],[2,2.5],[8,4]]},"legend":null}}},
   {"transform":[{"filter":"datum.row != 2"}],"mark":{"type":"point","shape":"circle","filled":true,"fill":"#fff","stroke":"#808080","strokeWidth":1,"size":280,"opacity":1,"xOffset":-47},"encoding":{"x":{"field":"col","type":"quantitative","scale":{"domain":[1,3],"range":[-3,365],"nice":false,"zero":false},"axis":null},"y":{"field":"row","type":"quantitative","scale":{"domain":[1,3],"range":[263,293],"nice":false,"zero":false},"axis":null}}},
   {"transform":[{"filter":"datum.row == 2"}],"mark":{"type":"point","shape":"circle","filled":true,"fill":"#fff","stroke":"#808080","strokeWidth":1,"size":280,"opacity":1,"xOffset":-35},"encoding":{"x":{"field":"col","type":"quantitative","scale":{"domain":[1,3],"range":[-3,365],"nice":false,"zero":false},"axis":null},"y":{"field":"row","type":"quantitative","scale":{"domain":[1,3],"range":[263,293],"nice":false,"zero":false},"axis":null}}},
   {"transform":[{"filter":"datum.row != 2"}],"mark":{"type":"text","fontSize":10,"fontWeight":"bold","align":"center","baseline":"middle","xOffset":-47,"color":"#000"},"encoding":{"x":{"field":"col","type":"quantitative","scale":{"domain":[1,3],"range":[-3,365],"nice":false,"zero":false},"axis":null},"y":{"field":"row","type":"quantitative","scale":{"domain":[1,3],"range":[263,293],"nice":false,"zero":false},"axis":null},"text":{"field":"n"}}},
   {"transform":[{"filter":"datum.row == 2"}],"mark":{"type":"text","fontSize":10,"fontWeight":"bold","align":"center","baseline":"middle","xOffset":-35,"color":"#000"},"encoding":{"x":{"field":"col","type":"quantitative","scale":{"domain":[1,3],"range":[-3,365],"nice":false,"zero":false},"axis":null},"y":{"field":"row","type":"quantitative","scale":{"domain":[1,3],"range":[263,293],"nice":false,"zero":false},"axis":null},"text":{"field":"n"}}},
   {"mark":{"type":"text","fontSize":13,"align":"left","baseline":"middle","color":"#000"},"encoding":{"x":{"field":"col","type":"quantitative","scale":{"domain":[1,3],"range":[-3,365],"nice":false,"zero":false},"axis":null},"y":{"field":"row","type":"quantitative","scale":{"domain":[1,3],"range":[263,293],"nice":false,"zero":false},"axis":null},"text":{"field":"label"}}}
  ]}
],
"resolve":{"scale":{"x":"independent","y":"independent"}}
},
{
"width":493,"height":225,
"layer":[
 {"layer":[
   {"layer":[
     {"data":{"values":[{}]},"mark":{"type":"rect","fill":"transparent","stroke":"#000","strokeWidth":2},
      "encoding":{"x":{"datum":-16.63,"type":"quantitative","scale":{"domain":[50,500],"nice":false,"zero":false}},"x2":{"datum":556.6},"y":{"datum":9.28,"type":"quantitative","scale":{"domain":[0,8],"nice":false,"zero":false}},"y2":{"datum":-3.307}}},
     {"data":{"values":[{}]},"mark":{"type":"rect","fill":"#c4c4c4"},
      "encoding":{"x":{"datum":-8.42,"type":"quantitative","scale":{"domain":[50,500],"nice":false,"zero":false}},"x2":{"datum":17.14},"y":{"datum":8.924,"type":"quantitative","scale":{"domain":[0,8],"nice":false,"zero":false}},"y2":{"datum":8.036}}},
     {"data":{"values":[{}]},"mark":{"type":"text","text":"a2)","fontSize":14,"fontWeight":"bold","align":"center","baseline":"middle","color":"#000"},
      "encoding":{"x":{"datum":4.36,"type":"quantitative","scale":{"domain":[50,500],"nice":false,"zero":false}},"y":{"datum":8.48,"type":"quantitative","scale":{"domain":[0,8],"nice":false,"zero":false}}}},
     {"data":{"values":[{}]},"mark":{"type":"text","text":"Experiment (EFS: E1-E3)","fontSize":14,"fontWeight":"bold","align":"center","baseline":"middle","color":"#111"},
      "encoding":{"x":{"datum":278.2,"type":"quantitative","scale":{"domain":[50,500],"nice":false,"zero":false}},"y":{"datum":8.498,"type":"quantitative","scale":{"domain":[0,8],"nice":false,"zero":false}}}},
     {"data":{"name":"energy"},"mark":{"type":"line","color":"#1f6f1f","strokeWidth":2.5},
      "encoding":{"x":{"field":"t","type":"quantitative","scale":{"domain":[50,500],"nice":false,"zero":false},"axis":{"values":[50,100,150,200,250,300,350,400,450,500],"tickCount":30,"format":"d","grid":true,"title":"t [ms]","titleX":506,"titleY":34,"titleAlign":"left","titleBaseline":"middle","titleAngle":0,"labelFlush":false}},
       "y":{"field":"v","type":"quantitative","scale":{"domain":[0,8],"nice":false,"zero":false},"axis":{"values":[0,1,2,3,4,5,6,7,8],"tickCount":30,"format":"d","grid":true,"title":"Energy    [kJ]","titleX":-46,"titleY":130,"titleAngle":270,"titleAlign":"center","titleBaseline":"middle"}},
       "strokeDash":{"field":"s","type":"nominal","scale":{"domain":["E1","E2","E3"],"range":[[1,0],[2,2.5],[8,4]]},"legend":null}}}
   ]},
   {"layer":[
     {"data":{"name":"power"},"mark":{"type":"line","color":"#2323b4","strokeWidth":2.5},
      "encoding":{"x":{"field":"t","type":"quantitative","scale":{"domain":[50,500],"nice":false,"zero":false}},"y":{"field":"v","type":"quantitative","scale":{"domain":[0,32],"nice":false,"zero":false},"axis":{"orient":"right","values":[0,4,8,12,16,20,24,28,32],"tickCount":30,"format":"d","grid":false,"title":"Current  [kA],   Power  [kW]","titleX":49,"titleY":112,"titleAngle":270,"titleAlign":"center","titleBaseline":"middle"}},
       "strokeDash":{"field":"s","type":"nominal","scale":{"domain":["E1","E2","E3"],"range":[[1,0],[2,2.5],[8,4]]},"legend":null}}},
     {"data":{"name":"cur"},"mark":{"type":"line","color":"#ff0000","strokeWidth":2.5},
      "encoding":{"x":{"field":"t","type":"quantitative","scale":{"domain":[50,500],"nice":false,"zero":false}},"y":{"field":"v","type":"quantitative","scale":{"domain":[0,32],"nice":false,"zero":false}},
       "strokeDash":{"field":"s","type":"nominal","scale":{"domain":["E1","E2","E3"],"range":[[1,0],[2,2.5],[8,4]]},"legend":null}}}
   ]},
   {"data":{"name":"callouts"},"transform":[{"filter":"datum.p == 2"}],
    "layer":[
     {"mark":{"type":"rule","color":"#000","strokeWidth":1},"encoding":{"x":{"field":"l1","type":"quantitative","scale":{"domain":[50,500],"nice":false,"zero":false}},"x2":{"field":"l2"},"y":{"field":"lv","type":"quantitative","scale":{"domain":[0,8],"nice":false,"zero":false},"axis":null}}},
     {"mark":{"type":"rule","color":"#000","strokeWidth":1},"encoding":{"x":{"field":"tt","type":"quantitative","scale":{"domain":[50,500],"nice":false,"zero":false}},"x2":{"field":"pt"},"y":{"field":"lv","type":"quantitative","scale":{"domain":[0,8],"nice":false,"zero":false},"axis":null},"y2":{"field":"pv"}}},
     {"mark":{"type":"point","shape":"M0,0L0.55,1.5L-0.55,1.5Z","size":169,"filled":true,"color":"#000","opacity":1},"encoding":{"x":{"field":"pt","type":"quantitative","scale":{"domain":[50,500],"nice":false,"zero":false}},"y":{"field":"pv","type":"quantitative","scale":{"domain":[0,8],"nice":false,"zero":false},"axis":null},
       "angle":{"field":"id","type":"nominal","scale":{"domain":["6a1","9a1","3a1","7a1","1a2","4a2","7a2","5a3","1a3","3a3"],"range":[212.2,225.4,50.7,175.8,152.9,217.9,342.7,141.2,145.1,327.6]},"legend":null}}},
     {"mark":{"type":"point","shape":"M-1,-0.486H1V0.486H-1Z","size":1369,"filled":true,"color":"#c4c4c4","opacity":1},"encoding":{"x":{"field":"bt","type":"quantitative","scale":{"domain":[50,500],"nice":false,"zero":false}},"y":{"field":"bv","type":"quantitative","scale":{"domain":[0,8],"nice":false,"zero":false},"axis":null}}},
     {"mark":{"type":"text","fontSize":13,"fontWeight":"bold","align":"center","baseline":"middle","color":"#111"},"encoding":{"x":{"field":"bt","type":"quantitative","scale":{"domain":[50,500],"nice":false,"zero":false}},"y":{"field":"bv","type":"quantitative","scale":{"domain":[0,8],"nice":false,"zero":false},"axis":null},"text":{"field":"id"}}}
    ]}
  ],
  "resolve":{"scale":{"y":"independent"}}
 },
 {"data":{"name":"leg2"},
  "layer":[
   {"data":{"values":[{}]},"mark":{"type":"rect","fill":"#d9d9d9"},"encoding":{"x":{"datum":0.69,"type":"quantitative","scale":{"domain":[1,3],"range":[-3,365],"nice":false,"zero":false},"axis":null},"x2":{"datum":3.668},"y":{"datum":0.481,"type":"quantitative","scale":{"domain":[1,3],"range":[271,303],"nice":false,"zero":false},"axis":null},"y2":{"datum":3.544}}},
   {"transform":[{"filter":"datum.row != 2"}],"mark":{"type":"rule","strokeWidth":3,"xOffset":-37,"x2Offset":-5},"encoding":{"x":{"field":"col","type":"quantitative","scale":{"domain":[1,3],"range":[-3,365],"nice":false,"zero":false},"axis":null},"x2":{"field":"col"},"y":{"field":"row","type":"quantitative","scale":{"domain":[1,3],"range":[271,303],"nice":false,"zero":false},"axis":null},
     "color":{"field":"q","type":"nominal","scale":{"domain":["Displ","Force","Current","Energy","Power"],"range":["#2323b4","#1f6f1f","#ff0000","#1f6f1f","#2323b4"]},"legend":null},
     "strokeDash":{"field":"s","type":"nominal","scale":{"domain":["E1","E2","E3"],"range":[[1,0],[2,2.5],[8,4]]},"legend":null}}},
   {"transform":[{"filter":"datum.row == 2"}],"mark":{"type":"rule","strokeWidth":3,"xOffset":-26,"x2Offset":-5},"encoding":{"x":{"field":"col","type":"quantitative","scale":{"domain":[1,3],"range":[-3,365],"nice":false,"zero":false},"axis":null},"x2":{"field":"col"},"y":{"field":"row","type":"quantitative","scale":{"domain":[1,3],"range":[271,303],"nice":false,"zero":false},"axis":null},
     "color":{"field":"q","type":"nominal","scale":{"domain":["Displ","Force","Current","Energy","Power"],"range":["#2323b4","#1f6f1f","#ff0000","#1f6f1f","#2323b4"]},"legend":null},
     "strokeDash":{"field":"s","type":"nominal","scale":{"domain":["E1","E2","E3"],"range":[[1,0],[2,2.5],[8,4]]},"legend":null}}},
   {"transform":[{"filter":"datum.row != 2"}],"mark":{"type":"point","shape":"circle","filled":true,"fill":"#fff","stroke":"#808080","strokeWidth":1,"size":280,"opacity":1,"xOffset":-47},"encoding":{"x":{"field":"col","type":"quantitative","scale":{"domain":[1,3],"range":[-3,365],"nice":false,"zero":false},"axis":null},"y":{"field":"row","type":"quantitative","scale":{"domain":[1,3],"range":[271,303],"nice":false,"zero":false},"axis":null}}},
   {"transform":[{"filter":"datum.row == 2"}],"mark":{"type":"point","shape":"circle","filled":true,"fill":"#fff","stroke":"#808080","strokeWidth":1,"size":280,"opacity":1,"xOffset":-35},"encoding":{"x":{"field":"col","type":"quantitative","scale":{"domain":[1,3],"range":[-3,365],"nice":false,"zero":false},"axis":null},"y":{"field":"row","type":"quantitative","scale":{"domain":[1,3],"range":[271,303],"nice":false,"zero":false},"axis":null}}},
   {"transform":[{"filter":"datum.row != 2"}],"mark":{"type":"text","fontSize":10,"fontWeight":"bold","align":"center","baseline":"middle","xOffset":-47,"color":"#000"},"encoding":{"x":{"field":"col","type":"quantitative","scale":{"domain":[1,3],"range":[-3,365],"nice":false,"zero":false},"axis":null},"y":{"field":"row","type":"quantitative","scale":{"domain":[1,3],"range":[271,303],"nice":false,"zero":false},"axis":null},"text":{"field":"n"}}},
   {"transform":[{"filter":"datum.row == 2"}],"mark":{"type":"text","fontSize":10,"fontWeight":"bold","align":"center","baseline":"middle","xOffset":-35,"color":"#000"},"encoding":{"x":{"field":"col","type":"quantitative","scale":{"domain":[1,3],"range":[-3,365],"nice":false,"zero":false},"axis":null},"y":{"field":"row","type":"quantitative","scale":{"domain":[1,3],"range":[271,303],"nice":false,"zero":false},"axis":null},"text":{"field":"n"}}},
   {"mark":{"type":"text","fontSize":13,"align":"left","baseline":"middle","color":"#000"},"encoding":{"x":{"field":"col","type":"quantitative","scale":{"domain":[1,3],"range":[-3,365],"nice":false,"zero":false},"axis":null},"y":{"field":"row","type":"quantitative","scale":{"domain":[1,3],"range":[271,303],"nice":false,"zero":false},"axis":null},"text":{"field":"label"}}}
  ]}
],
"resolve":{"scale":{"x":"independent","y":"independent"}}
},
{
"width":493,"height":225,
"layer":[
 {"layer":[
   {"layer":[
     {"data":{"values":[{}]},"mark":{"type":"rect","fill":"transparent","stroke":"#000","strokeWidth":2},
      "encoding":{"x":{"datum":-16.63,"type":"quantitative","scale":{"domain":[50,500],"nice":false,"zero":false}},"x2":{"datum":556.6},"y":{"datum":14.187,"type":"quantitative","scale":{"domain":[0,12],"nice":false,"zero":false}},"y2":{"datum":-4.533}}},
     {"data":{"values":[{}]},"mark":{"type":"rect","fill":"#c4c4c4"},
      "encoding":{"x":{"datum":-8.42,"type":"quantitative","scale":{"domain":[50,500],"nice":false,"zero":false}},"x2":{"datum":17.14},"y":{"datum":13.867,"type":"quantitative","scale":{"domain":[0,12],"nice":false,"zero":false}},"y2":{"datum":12.267}}},
     {"data":{"values":[{}]},"mark":{"type":"text","text":"a3)","fontSize":14,"fontWeight":"bold","align":"center","baseline":"middle","color":"#000"},
      "encoding":{"x":{"datum":4.36,"type":"quantitative","scale":{"domain":[50,500],"nice":false,"zero":false}},"y":{"datum":13.067,"type":"quantitative","scale":{"domain":[0,12],"nice":false,"zero":false}}}},
     {"data":{"values":[{}]},"mark":{"type":"text","text":"Experiment (EFS: E1-E3)","fontSize":14,"fontWeight":"bold","align":"center","baseline":"middle","color":"#111"},
      "encoding":{"x":{"datum":278.2,"type":"quantitative","scale":{"domain":[50,500],"nice":false,"zero":false}},"y":{"datum":12.96,"type":"quantitative","scale":{"domain":[0,12],"nice":false,"zero":false}}}},
     {"data":{"name":"force"},"mark":{"type":"line","color":"#1f6f1f","strokeWidth":2.5,"interpolate":"monotone"},
      "encoding":{"x":{"field":"t","type":"quantitative","scale":{"domain":[50,500],"nice":false,"zero":false},"axis":{"values":[50,100,150,200,250,300,350,400,450,500],"tickCount":30,"format":"d","grid":true,"title":"t [ms]","titleX":506,"titleY":44,"titleAlign":"left","titleBaseline":"middle","titleAngle":0,"labelFlush":false}},
       "y":{"field":"v","type":"quantitative","scale":{"domain":[0,12],"nice":false,"zero":false},"axis":{"values":[0,2,4,6,8,10,12],"tickCount":30,"format":"d","grid":true,"title":"Force  [kN]","titleX":-44,"titleY":125,"titleAngle":270,"titleAlign":"center","titleBaseline":"middle"}},
       "strokeDash":{"field":"s","type":"nominal","scale":{"domain":["E1","E2","E3"],"range":[[1,0],[2,2.5],[8,4]]},"legend":null}}}
   ]},
   {"layer":[
     {"data":{"name":"cur"},"mark":{"type":"line","color":"#ff0000","strokeWidth":2.5},
      "encoding":{"x":{"field":"t","type":"quantitative","scale":{"domain":[50,500],"nice":false,"zero":false}},"y":{"field":"v","type":"quantitative","scale":{"domain":[0,18],"nice":false,"zero":false},"axis":{"orient":"right","values":[0,3,6,9,12,15,18],"tickCount":30,"format":"d","grid":false,"title":"Current  [kA]","titleX":49,"titleY":112,"titleAngle":270,"titleAlign":"center","titleBaseline":"middle"}},
       "strokeDash":{"field":"s","type":"nominal","scale":{"domain":["E1","E2","E3"],"range":[[1,0],[2,2.5],[8,4]]},"legend":null}}}
   ]},
   {"data":{"name":"callouts"},"transform":[{"filter":"datum.p == 3"}],
    "layer":[
     {"mark":{"type":"rule","color":"#000","strokeWidth":1},"encoding":{"x":{"field":"l1","type":"quantitative","scale":{"domain":[50,500],"nice":false,"zero":false}},"x2":{"field":"l2"},"y":{"field":"lv","type":"quantitative","scale":{"domain":[0,12],"nice":false,"zero":false},"axis":null}}},
     {"mark":{"type":"rule","color":"#000","strokeWidth":1},"encoding":{"x":{"field":"tt","type":"quantitative","scale":{"domain":[50,500],"nice":false,"zero":false}},"x2":{"field":"pt"},"y":{"field":"lv","type":"quantitative","scale":{"domain":[0,12],"nice":false,"zero":false},"axis":null},"y2":{"field":"pv"}}},
     {"mark":{"type":"point","shape":"M0,0L0.55,1.5L-0.55,1.5Z","size":169,"filled":true,"color":"#000","opacity":1},"encoding":{"x":{"field":"pt","type":"quantitative","scale":{"domain":[50,500],"nice":false,"zero":false}},"y":{"field":"pv","type":"quantitative","scale":{"domain":[0,12],"nice":false,"zero":false},"axis":null},
       "angle":{"field":"id","type":"nominal","scale":{"domain":["6a1","9a1","3a1","7a1","1a2","4a2","7a2","5a3","1a3","3a3"],"range":[212.2,225.4,50.7,175.8,152.9,217.9,342.7,141.2,145.1,327.6]},"legend":null}}},
     {"mark":{"type":"point","shape":"M-1,-0.486H1V0.486H-1Z","size":1369,"filled":true,"color":"#c4c4c4","opacity":1},"encoding":{"x":{"field":"bt","type":"quantitative","scale":{"domain":[50,500],"nice":false,"zero":false}},"y":{"field":"bv","type":"quantitative","scale":{"domain":[0,12],"nice":false,"zero":false},"axis":null}}},
     {"mark":{"type":"text","fontSize":13,"fontWeight":"bold","align":"center","baseline":"middle","color":"#111"},"encoding":{"x":{"field":"bt","type":"quantitative","scale":{"domain":[50,500],"nice":false,"zero":false}},"y":{"field":"bv","type":"quantitative","scale":{"domain":[0,12],"nice":false,"zero":false},"axis":null},"text":{"field":"id"}}}
    ]}
  ],
  "resolve":{"scale":{"y":"independent"}}
 },
 {"data":{"name":"leg3"},
  "layer":[
   {"data":{"values":[{}]},"mark":{"type":"rect","fill":"#d9d9d9"},"encoding":{"x":{"datum":0.69,"type":"quantitative","scale":{"domain":[1,3],"range":[-3,365],"nice":false,"zero":false},"axis":null},"x2":{"datum":3.679},"y":{"datum":0.4545,"type":"quantitative","scale":{"domain":[1,2],"range":[269,291],"nice":false,"zero":false},"axis":null},"y2":{"datum":2.577}}},
   {"mark":{"type":"rule","strokeWidth":3,"xOffset":-37,"x2Offset":-5},"encoding":{"x":{"field":"col","type":"quantitative","scale":{"domain":[1,3],"range":[-3,365],"nice":false,"zero":false},"axis":null},"x2":{"field":"col"},"y":{"field":"row","type":"quantitative","scale":{"domain":[1,2],"range":[269,291],"nice":false,"zero":false},"axis":null},
     "color":{"field":"q","type":"nominal","scale":{"domain":["Displ","Force","Current","Energy","Power"],"range":["#2323b4","#1f6f1f","#ff0000","#1f6f1f","#2323b4"]},"legend":null},
     "strokeDash":{"field":"s","type":"nominal","scale":{"domain":["E1","E2","E3"],"range":[[1,0],[2,2.5],[8,4]]},"legend":null}}},
   {"mark":{"type":"point","shape":"circle","filled":true,"fill":"#fff","stroke":"#808080","strokeWidth":1,"size":280,"opacity":1,"xOffset":-47},"encoding":{"x":{"field":"col","type":"quantitative","scale":{"domain":[1,3],"range":[-3,365],"nice":false,"zero":false},"axis":null},"y":{"field":"row","type":"quantitative","scale":{"domain":[1,2],"range":[269,291],"nice":false,"zero":false},"axis":null}}},
   {"mark":{"type":"text","fontSize":10,"fontWeight":"bold","align":"center","baseline":"middle","xOffset":-47,"color":"#000"},"encoding":{"x":{"field":"col","type":"quantitative","scale":{"domain":[1,3],"range":[-3,365],"nice":false,"zero":false},"axis":null},"y":{"field":"row","type":"quantitative","scale":{"domain":[1,2],"range":[269,291],"nice":false,"zero":false},"axis":null},"text":{"field":"n"}}},
   {"mark":{"type":"text","fontSize":13,"align":"left","baseline":"middle","color":"#000"},"encoding":{"x":{"field":"col","type":"quantitative","scale":{"domain":[1,3],"range":[-3,365],"nice":false,"zero":false},"axis":null},"y":{"field":"row","type":"quantitative","scale":{"domain":[1,2],"range":[269,291],"nice":false,"zero":false},"axis":null},"text":{"field":"label"}}}
  ]}
],
"resolve":{"scale":{"x":"independent","y":"independent"}}
}
]
}
